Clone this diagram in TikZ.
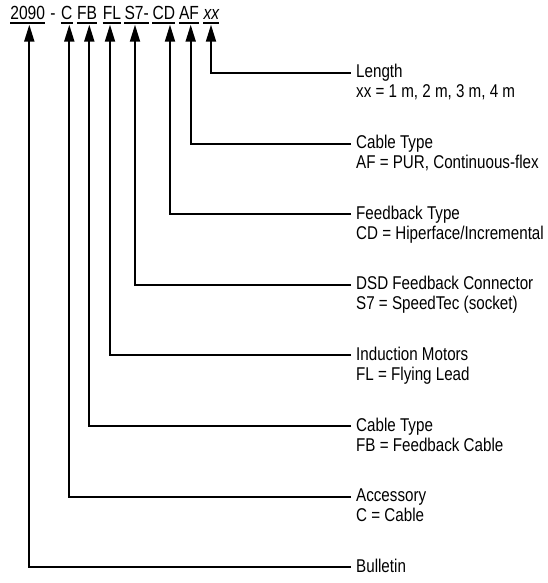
\documentclass[tikz,border=0pt]{standalone}
\usepackage{fontspec}
\setmainfont{Liberation Sans}[FakeStretch=0.82]
\usetikzlibrary{arrows.meta}
\begin{document}
\begin{tikzpicture}[x=1pt,y=-1pt,
  code/.style={inner sep=0pt, anchor=base, font=\fontsize{19}{21}\selectfont, text height=13pt, text depth=0pt},
  ttl/.style={inner sep=0pt, anchor=base west, font=\fontsize{18.5}{21}\selectfont, text height=13pt, text depth=3pt},
  val/.style={inner sep=0pt, anchor=base west, font=\fontsize{18.5}{21}\selectfont},
  lead/.style={line width=1.9pt, -{Triangle[length=17pt,width=10pt]}, shorten <=5pt, shorten >=4.5pt},
  uline/.style={line width=1.3pt}]
\useasboundingbox (0,0) rectangle (548,583);
% header code
\node[code] (p2090) at (27.7,20) {2090};
\node[code] (pdash) at (53,20) {-};
\node[code] (pC) at (66.7,20) {C};
\node[code] (pFB) at (87,20) {FB};
\node[code] (pFL) at (112,20) {FL};
\node[code] (pS7) at (136.7,20) {S7-};
\node[code] (pCD) at (163.8,20) {CD};
\node[code] (pAF) at (189,20) {AF};
\node[code] (pxx) at (211.3,20) {\itshape xx};
\foreach \n in {p2090,pC,pFB,pFL,pS7,pCD,pAF,pxx}
  \draw[uline] ([yshift=-3pt]\n.base west) -- ([yshift=-3pt]\n.base east);
% labels
\node[ttl] (tLen) at (356,78) {Length};
\node[val] (vLen) at (356,98) {xx = 1 m, 2 m, 3 m, 4 m};
\node[ttl] (tCab) at (356,148.6) {Cable Type};
\node[val] (vCab) at (356,168.6) {AF = PUR, Continuous-flex};
\node[ttl] (tFbt) at (356,219.2) {Feedback Type};
\node[val] (vFbt) at (356,239.2) {CD = Hiperface/Incremental};
\node[ttl] (tDsd) at (356,289.8) {DSD Feedback Connector};
\node[val] (vDsd) at (356,309.8) {S7 = SpeedTec (socket)};
\node[ttl] (tInd) at (356,360.4) {Induction Motors};
\node[val] (vInd) at (356,380.4) {FL = Flying Lead};
\node[ttl] (tFbc) at (356,431) {Cable Type};
\node[val] (vFbc) at (356,451) {FB = Feedback Cable};
\node[ttl] (tAcc) at (356,501.6) {Accessory};
\node[val] (vAcc) at (356,521.6) {C = Cable};
\node[ttl] (tBul) at (356,572.2) {Bulletin};
% leaders
\draw[lead] (tLen.west) -| ([xshift=-0.3pt]pxx.south);
\draw[lead] (tCab.west) -| ([xshift=1.7pt]pAF.south);
\draw[lead] (tFbt.west) -| ([xshift=6.2pt]pCD.south);
\draw[lead] (tDsd.west) -| ([xshift=-1.7pt]pS7.south);
\draw[lead] (tInd.west) -| ([xshift=-2pt]pFL.south);
\draw[lead] (tFbc.west) -| ([xshift=2.3pt]pFB.south);
\draw[lead] (tAcc.west) -| ([xshift=2.6pt]pC.south);
\draw[lead] (tBul.west) -| ([xshift=1.6pt]p2090.south);
\end{tikzpicture}
\end{document}
